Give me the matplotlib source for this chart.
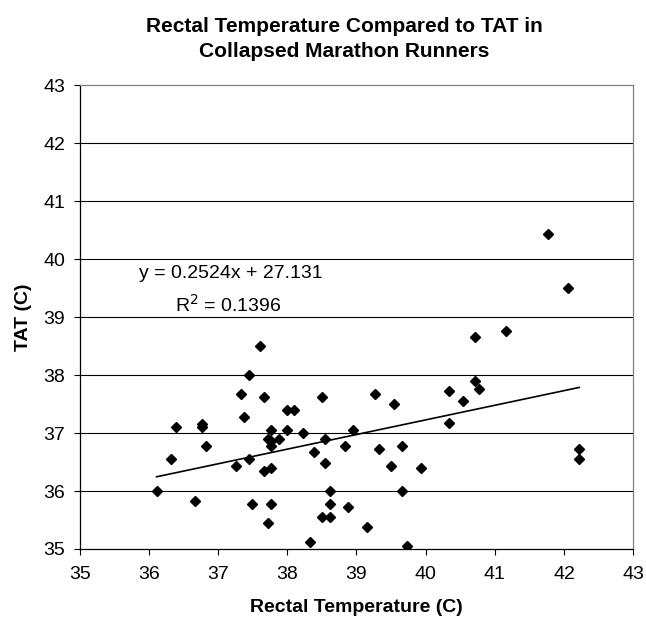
import matplotlib
matplotlib.use("Agg")
import matplotlib.pyplot as plt

plt.rcParams['font.family'] = ['Liberation Sans', 'DejaVu Sans']

# rectal temperature (C) / TAT (C)
rectal = [37.61, 37.44, 37.33, 37.66, 37.38, 36.39, 36.77, 36.77, 37.77, 37.72,
          37.77, 37.88, 37.77, 36.82, 36.32, 37.44, 37.26, 37.66, 37.77, 36.11,
          36.67, 37.49, 37.77, 37.72, 37.99, 38.10, 37.99, 38.22, 38.50, 38.55,
          38.38, 38.55, 38.61, 38.61, 38.50, 38.61, 38.33, 38.95, 38.83, 38.88,
          39.15, 39.27, 39.33, 39.54, 39.66, 39.50, 39.66, 39.73, 39.93, 40.33,
          40.54, 40.33, 41.77, 42.05, 40.71, 41.16, 40.71, 40.77, 42.22, 42.22]
tat = [38.50, 38.00, 37.67, 37.62, 37.27, 37.11, 37.16, 37.10, 37.05, 36.89,
       36.86, 36.89, 36.78, 36.77, 36.55, 36.55, 36.44, 36.34, 36.39, 36.00,
       35.83, 35.77, 35.77, 35.44, 37.39, 37.39, 37.05, 37.00, 37.62, 36.89,
       36.67, 36.49, 36.00, 35.77, 35.56, 35.56, 35.12, 37.05, 36.77, 35.73,
       35.38, 37.68, 36.72, 37.50, 36.77, 36.44, 36.00, 35.05, 36.39, 37.72,
       37.55, 37.17, 40.43, 39.50, 38.66, 38.76, 37.89, 37.76, 36.72, 36.55]

slope = 0.2524
intercept = 27.131
r2 = 0.1396

fig = plt.figure(figsize=(6.46, 6.22), dpi=100)
ax = fig.add_axes([0.1234, 0.1174, 0.8569, 0.7455])

for yv in range(36, 43):
    ax.axhline(yv, color='black', lw=0.8, zorder=1)

ax.plot(rectal, tat, 'D', color='black', ms=5.1, zorder=3)

x0, x1 = min(rectal), max(rectal)
ax.plot([x0, x1], [slope * x0 + intercept, slope * x1 + intercept],
        color='black', lw=1.2, zorder=2)

ax.text(37.19, 39.76, f"y = {slope}x + {intercept}", ha='center', va='center',
        fontsize=14)
ax.text(37.14, 39.21, f"R$^2$ = {r2}", ha='center', va='center', fontsize=14)

ax.set_xlim(35, 43)
ax.set_ylim(35, 43)
ax.set_xticks(range(35, 44))
ax.set_yticks(range(35, 44))
ax.tick_params(direction='out', length=4.5, width=0.8, labelsize=14,
               color='black')
ax.tick_params(axis='x', pad=8)
ax.tick_params(axis='y', pad=6)

ax.spines['left'].set_color('black')
ax.spines['bottom'].set_color('black')
ax.spines['top'].set_color('#808080')
ax.spines['right'].set_color('#808080')
for s in ax.spines.values():
    s.set_linewidth(0.9)

ax.set_xlabel('Rectal Temperature (C)', fontsize=14, fontweight='bold',
              labelpad=11)
ax.set_ylabel('TAT (C)', fontsize=14, fontweight='bold', labelpad=8)

fig.text(0.533, 0.958, 'Rectal Temperature Compared to TAT in',
         ha='center', va='center', fontsize=15, fontweight='bold')
fig.text(0.533, 0.918, 'Collapsed Marathon Runners',
         ha='center', va='center', fontsize=15, fontweight='bold')

fig.savefig('out.png', dpi=100)
